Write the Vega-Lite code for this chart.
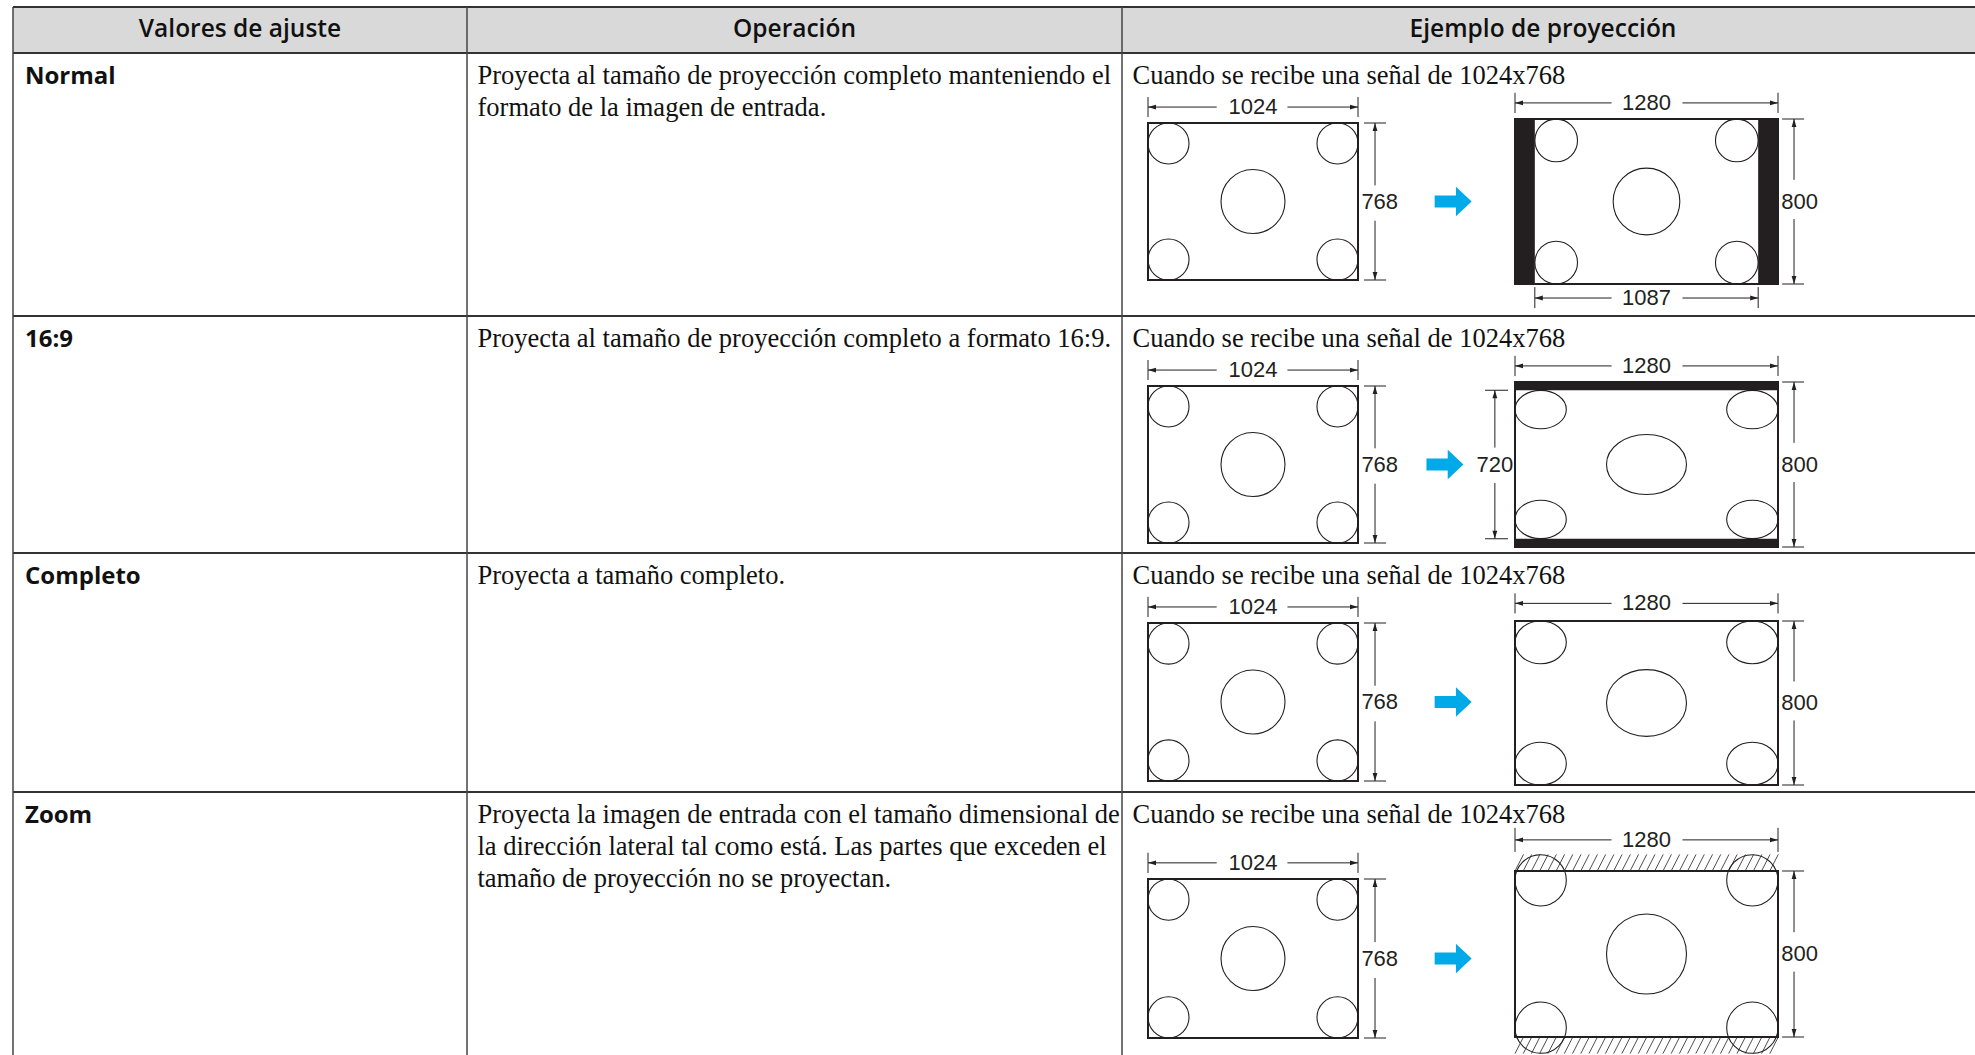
{
  "$schema": "https://vega.github.io/schema/vega-lite/v6.json",
  "width": 1975,
  "height": 1055,
  "padding": 0,
  "autosize": {"type": "none"},
  "background": "white",
  "config": {"view": {"stroke": null}},
  "datasets": {
    "celdas": [
      {"fila": 1, "columna": 0, "texto": "Normal"},
      {"fila": 1, "columna": 1, "texto": "Proyecta al tamaño de proyección completo manteniendo el\nformato de la imagen de entrada."},
      {"fila": 1, "columna": 2, "texto": "Cuando se recibe una señal de 1024x768"},
      {"fila": 2, "columna": 0, "texto": "16:9"},
      {"fila": 2, "columna": 1, "texto": "Proyecta al tamaño de proyección completo a formato 16:9."},
      {"fila": 2, "columna": 2, "texto": "Cuando se recibe una señal de 1024x768"},
      {"fila": 3, "columna": 0, "texto": "Completo"},
      {"fila": 3, "columna": 1, "texto": "Proyecta a tamaño completo."},
      {"fila": 3, "columna": 2, "texto": "Cuando se recibe una señal de 1024x768"},
      {"fila": 4, "columna": 0, "texto": "Zoom"},
      {"fila": 4, "columna": 1, "texto": "Proyecta la imagen de entrada con el tamaño dimensional de\nla dirección lateral tal como está. Las partes que exceden el\ntamaño de proyección no se proyectan."},
      {"fila": 4, "columna": 2, "texto": "Cuando se recibe una señal de 1024x768"}
    ],
    "encabezado": [
      {"columna": 0.5, "fila": 0.5, "titulo": "Valores de ajuste"},
      {"columna": 1.5, "fila": 0.5, "titulo": "Operación"},
      {"columna": 2.5, "fila": 0.5, "titulo": "Ejemplo de proyección"}
    ],
    "fondo_encabezado": [{"c_ini": 0, "c_fin": 3.2, "f_ini": 0, "f_fin": 1}],
    "bordes_h": [
      {"limite": 0, "c_ini": 0, "c_fin": 3.2}, {"limite": 1, "c_ini": 0, "c_fin": 3.2}, {"limite": 2, "c_ini": 0, "c_fin": 3.2},
      {"limite": 3, "c_ini": 0, "c_fin": 3.2}, {"limite": 4, "c_ini": 0, "c_fin": 3.2}
    ],
    "bordes_v": [
      {"limite": 0, "f_ini": 0, "f_fin": 5}, {"limite": 1, "f_ini": 0, "f_fin": 5}, {"limite": 2, "f_ini": 0, "f_fin": 5}
    ],
    "marcos": [
      {"panel": "entrada", "x_ini": 0, "x_fin": 1024, "y_ini": 0, "y_fin": 768},
      {"panel": "salida", "x_ini": 0, "x_fin": 1280, "y_ini": 0, "y_fin": 800}
    ],
    "flechas": [
      {"ajuste": "Normal", "fx": 1488, "fy": 384},
      {"ajuste": "16:9", "fx": 1448, "fy": 384},
      {"ajuste": "Completo", "fx": 1488, "fy": 384},
      {"ajuste": "Zoom", "fx": 1488, "fy": 384}
    ],
    "entrada_circulos": [
      {"cx": 100, "cy": 100, "d": 200, "forma": "circulo"},
      {"cx": 924, "cy": 100, "d": 200, "forma": "circulo"},
      {"cx": 100, "cy": 668, "d": 200, "forma": "circulo"},
      {"cx": 924, "cy": 668, "d": 200, "forma": "circulo"},
      {"cx": 512, "cy": 384, "d": 312, "forma": "circulo"}
    ],
    "entrada_cotas": [
      {"x_ini": 0, "y_ini": -78, "x_fin": 335, "y_fin": -78},
      {"x_ini": 680, "y_ini": -78, "x_fin": 1024, "y_fin": -78},
      {"x_ini": 0, "y_ini": -127, "x_fin": 0, "y_fin": -29},
      {"x_ini": 1024, "y_ini": -127, "x_fin": 1024, "y_fin": -29},
      {"x_ini": 1107, "y_ini": 0, "x_fin": 1107, "y_fin": 305},
      {"x_ini": 1107, "y_ini": 478, "x_fin": 1107, "y_fin": 768},
      {"x_ini": 1053, "y_ini": 0, "x_fin": 1161, "y_fin": 0},
      {"x_ini": 1053, "y_ini": 768, "x_fin": 1161, "y_fin": 768}
    ],
    "entrada_puntas": [
      {"px": 0, "py": -78, "punta": "izq"},
      {"px": 1024, "py": -78, "punta": "der"},
      {"px": 1107, "py": 0, "punta": "arr"},
      {"px": 1107, "py": 768, "punta": "aba"}
    ],
    "entrada_textos": [
      {"tx": 512, "ty": -78, "t": "1024"},
      {"tx": 1130, "ty": 384, "t": "768"}
    ],
    "salida_barras": [
      {"ajuste": "Normal", "x_ini": 0, "x_fin": 96.5, "y_ini": 0, "y_fin": 800},
      {"ajuste": "Normal", "x_ini": 1183.5, "x_fin": 1280, "y_ini": 0, "y_fin": 800},
      {"ajuste": "16:9", "x_ini": 0, "x_fin": 1280, "y_ini": 0, "y_fin": 40},
      {"ajuste": "16:9", "x_ini": 0, "x_fin": 1280, "y_ini": 760, "y_fin": 800}
    ],
    "salida_circulos": [
      {"ajuste": "Normal", "cx": 200.5, "cy": 104, "d": 208, "forma": "circulo"},
      {"ajuste": "Normal", "cx": 1079.5, "cy": 104, "d": 208, "forma": "circulo"},
      {"ajuste": "Normal", "cx": 200.5, "cy": 696, "d": 208, "forma": "circulo"},
      {"ajuste": "Normal", "cx": 1079.5, "cy": 696, "d": 208, "forma": "circulo"},
      {"ajuste": "Normal", "cx": 640, "cy": 400, "d": 325, "forma": "circulo"},
      {"ajuste": "16:9", "cx": 125, "cy": 133.75, "d": 250, "forma": "elipse_169"},
      {"ajuste": "16:9", "cx": 1155, "cy": 133.75, "d": 250, "forma": "elipse_169"},
      {"ajuste": "16:9", "cx": 125, "cy": 666.25, "d": 250, "forma": "elipse_169"},
      {"ajuste": "16:9", "cx": 1155, "cy": 666.25, "d": 250, "forma": "elipse_169"},
      {"ajuste": "16:9", "cx": 640, "cy": 400, "d": 390, "forma": "elipse_169"},
      {"ajuste": "Completo", "cx": 125, "cy": 104.2, "d": 250, "forma": "elipse_completo"},
      {"ajuste": "Completo", "cx": 1155, "cy": 104.2, "d": 250, "forma": "elipse_completo"},
      {"ajuste": "Completo", "cx": 125, "cy": 695.8, "d": 250, "forma": "elipse_completo"},
      {"ajuste": "Completo", "cx": 1155, "cy": 695.8, "d": 250, "forma": "elipse_completo"},
      {"ajuste": "Completo", "cx": 640, "cy": 400, "d": 390, "forma": "elipse_completo"},
      {"ajuste": "Zoom", "cx": 125, "cy": 45, "d": 250, "forma": "circulo"},
      {"ajuste": "Zoom", "cx": 1155, "cy": 45, "d": 250, "forma": "circulo"},
      {"ajuste": "Zoom", "cx": 125, "cy": 755, "d": 250, "forma": "circulo"},
      {"ajuste": "Zoom", "cx": 1155, "cy": 755, "d": 250, "forma": "circulo"},
      {"ajuste": "Zoom", "cx": 640, "cy": 400, "d": 390, "forma": "circulo"}
    ],
    "salida_cotas": [
      {"ajuste": "Normal", "x_ini": 0, "y_ini": -78, "x_fin": 470, "y_fin": -78},
      {"ajuste": "Normal", "x_ini": 815, "y_ini": -78, "x_fin": 1280, "y_fin": -78},
      {"ajuste": "Normal", "x_ini": 0, "y_ini": -127, "x_fin": 0, "y_fin": -29},
      {"ajuste": "Normal", "x_ini": 1280, "y_ini": -127, "x_fin": 1280, "y_fin": -29},
      {"ajuste": "Normal", "x_ini": 1358, "y_ini": 0, "x_fin": 1358, "y_fin": 295},
      {"ajuste": "Normal", "x_ini": 1358, "y_ini": 485, "x_fin": 1358, "y_fin": 800},
      {"ajuste": "Normal", "x_ini": 1300, "y_ini": 0, "x_fin": 1407, "y_fin": 0},
      {"ajuste": "Normal", "x_ini": 1300, "y_ini": 800, "x_fin": 1407, "y_fin": 800},
      {"ajuste": "Normal", "x_ini": 96.5, "y_ini": 868, "x_fin": 470, "y_fin": 868},
      {"ajuste": "Normal", "x_ini": 815, "y_ini": 868, "x_fin": 1183.5, "y_fin": 868},
      {"ajuste": "Normal", "x_ini": 96.5, "y_ini": 815, "x_fin": 96.5, "y_fin": 917},
      {"ajuste": "Normal", "x_ini": 1183.5, "y_ini": 815, "x_fin": 1183.5, "y_fin": 917},
      {"ajuste": "16:9", "x_ini": 0, "y_ini": -78, "x_fin": 470, "y_fin": -78},
      {"ajuste": "16:9", "x_ini": 815, "y_ini": -78, "x_fin": 1280, "y_fin": -78},
      {"ajuste": "16:9", "x_ini": 0, "y_ini": -127, "x_fin": 0, "y_fin": -29},
      {"ajuste": "16:9", "x_ini": 1280, "y_ini": -127, "x_fin": 1280, "y_fin": -29},
      {"ajuste": "16:9", "x_ini": 1358, "y_ini": 0, "x_fin": 1358, "y_fin": 295},
      {"ajuste": "16:9", "x_ini": 1358, "y_ini": 485, "x_fin": 1358, "y_fin": 800},
      {"ajuste": "16:9", "x_ini": 1300, "y_ini": 0, "x_fin": 1407, "y_fin": 0},
      {"ajuste": "16:9", "x_ini": 1300, "y_ini": 800, "x_fin": 1407, "y_fin": 800},
      {"ajuste": "16:9", "x_ini": -98, "y_ini": 40, "x_fin": -98, "y_fin": 318},
      {"ajuste": "16:9", "x_ini": -98, "y_ini": 490, "x_fin": -98, "y_fin": 760},
      {"ajuste": "16:9", "x_ini": -146, "y_ini": 40, "x_fin": -34, "y_fin": 40},
      {"ajuste": "16:9", "x_ini": -146, "y_ini": 760, "x_fin": -34, "y_fin": 760},
      {"ajuste": "Completo", "x_ini": 0, "y_ini": -86, "x_fin": 470, "y_fin": -86},
      {"ajuste": "Completo", "x_ini": 815, "y_ini": -86, "x_fin": 1280, "y_fin": -86},
      {"ajuste": "Completo", "x_ini": 0, "y_ini": -135, "x_fin": 0, "y_fin": -37},
      {"ajuste": "Completo", "x_ini": 1280, "y_ini": -135, "x_fin": 1280, "y_fin": -37},
      {"ajuste": "Completo", "x_ini": 1358, "y_ini": 0, "x_fin": 1358, "y_fin": 295},
      {"ajuste": "Completo", "x_ini": 1358, "y_ini": 485, "x_fin": 1358, "y_fin": 800},
      {"ajuste": "Completo", "x_ini": 1300, "y_ini": 0, "x_fin": 1407, "y_fin": 0},
      {"ajuste": "Completo", "x_ini": 1300, "y_ini": 800, "x_fin": 1407, "y_fin": 800},
      {"ajuste": "Zoom", "x_ini": 0, "y_ini": -150, "x_fin": 470, "y_fin": -150},
      {"ajuste": "Zoom", "x_ini": 815, "y_ini": -150, "x_fin": 1280, "y_fin": -150},
      {"ajuste": "Zoom", "x_ini": 0, "y_ini": -208, "x_fin": 0, "y_fin": -92},
      {"ajuste": "Zoom", "x_ini": 1280, "y_ini": -208, "x_fin": 1280, "y_fin": -92},
      {"ajuste": "Zoom", "x_ini": 1358, "y_ini": 0, "x_fin": 1358, "y_fin": 295},
      {"ajuste": "Zoom", "x_ini": 1358, "y_ini": 485, "x_fin": 1358, "y_fin": 800},
      {"ajuste": "Zoom", "x_ini": 1300, "y_ini": 0, "x_fin": 1407, "y_fin": 0},
      {"ajuste": "Zoom", "x_ini": 1300, "y_ini": 800, "x_fin": 1407, "y_fin": 800}
    ],
    "salida_puntas": [
      {"ajuste": "Normal", "px": 0, "py": -78, "punta": "izq"},
      {"ajuste": "Normal", "px": 1280, "py": -78, "punta": "der"},
      {"ajuste": "Normal", "px": 1358, "py": 0, "punta": "arr"},
      {"ajuste": "Normal", "px": 1358, "py": 800, "punta": "aba"},
      {"ajuste": "Normal", "px": 96.5, "py": 868, "punta": "izq"},
      {"ajuste": "Normal", "px": 1183.5, "py": 868, "punta": "der"},
      {"ajuste": "16:9", "px": 0, "py": -78, "punta": "izq"},
      {"ajuste": "16:9", "px": 1280, "py": -78, "punta": "der"},
      {"ajuste": "16:9", "px": 1358, "py": 0, "punta": "arr"},
      {"ajuste": "16:9", "px": 1358, "py": 800, "punta": "aba"},
      {"ajuste": "16:9", "px": -98, "py": 40, "punta": "arr"},
      {"ajuste": "16:9", "px": -98, "py": 760, "punta": "aba"},
      {"ajuste": "Completo", "px": 0, "py": -86, "punta": "izq"},
      {"ajuste": "Completo", "px": 1280, "py": -86, "punta": "der"},
      {"ajuste": "Completo", "px": 1358, "py": 0, "punta": "arr"},
      {"ajuste": "Completo", "px": 1358, "py": 800, "punta": "aba"},
      {"ajuste": "Zoom", "px": 0, "py": -150, "punta": "izq"},
      {"ajuste": "Zoom", "px": 1280, "py": -150, "punta": "der"},
      {"ajuste": "Zoom", "px": 1358, "py": 0, "punta": "arr"},
      {"ajuste": "Zoom", "px": 1358, "py": 800, "punta": "aba"}
    ],
    "salida_textos": [
      {"ajuste": "Normal", "tx": 640, "ty": -78, "t": "1280"},
      {"ajuste": "Normal", "tx": 1385, "ty": 400, "t": "800"},
      {"ajuste": "Normal", "tx": 640, "ty": 868, "t": "1087"},
      {"ajuste": "16:9", "tx": 640, "ty": -78, "t": "1280"},
      {"ajuste": "16:9", "tx": 1385, "ty": 400, "t": "800"},
      {"ajuste": "16:9", "tx": -98, "ty": 400, "t": "720"},
      {"ajuste": "Completo", "tx": 640, "ty": -86, "t": "1280"},
      {"ajuste": "Completo", "tx": 1385, "ty": 400, "t": "800"},
      {"ajuste": "Zoom", "tx": 640, "ty": -150, "t": "1280"},
      {"ajuste": "Zoom", "tx": 1385, "ty": 400, "t": "800"}
    ],
    "rayado": [
      {"u": 0, "y_ini": 0, "y_fin": -80}, {"u": 40, "y_ini": 0, "y_fin": -80}, {"u": 80, "y_ini": 0, "y_fin": -80}, {"u": 120, "y_ini": 0, "y_fin": -80},
      {"u": 160, "y_ini": 0, "y_fin": -80}, {"u": 200, "y_ini": 0, "y_fin": -80}, {"u": 240, "y_ini": 0, "y_fin": -80}, {"u": 280, "y_ini": 0, "y_fin": -80},
      {"u": 320, "y_ini": 0, "y_fin": -80}, {"u": 360, "y_ini": 0, "y_fin": -80}, {"u": 400, "y_ini": 0, "y_fin": -80}, {"u": 440, "y_ini": 0, "y_fin": -80},
      {"u": 480, "y_ini": 0, "y_fin": -80}, {"u": 520, "y_ini": 0, "y_fin": -80}, {"u": 560, "y_ini": 0, "y_fin": -80}, {"u": 600, "y_ini": 0, "y_fin": -80},
      {"u": 640, "y_ini": 0, "y_fin": -80}, {"u": 680, "y_ini": 0, "y_fin": -80}, {"u": 720, "y_ini": 0, "y_fin": -80}, {"u": 760, "y_ini": 0, "y_fin": -80},
      {"u": 800, "y_ini": 0, "y_fin": -80}, {"u": 840, "y_ini": 0, "y_fin": -80}, {"u": 880, "y_ini": 0, "y_fin": -80}, {"u": 920, "y_ini": 0, "y_fin": -80},
      {"u": 960, "y_ini": 0, "y_fin": -80}, {"u": 1000, "y_ini": 0, "y_fin": -80}, {"u": 1040, "y_ini": 0, "y_fin": -80}, {"u": 1080, "y_ini": 0, "y_fin": -80},
      {"u": 1120, "y_ini": 0, "y_fin": -80}, {"u": 1160, "y_ini": 0, "y_fin": -80}, {"u": 1200, "y_ini": 0, "y_fin": -80}, {"u": 1240, "y_ini": 0, "y_fin": -80},
      {"u": 0, "y_ini": 880, "y_fin": 800}, {"u": 40, "y_ini": 880, "y_fin": 800}, {"u": 80, "y_ini": 880, "y_fin": 800}, {"u": 120, "y_ini": 880, "y_fin": 800},
      {"u": 160, "y_ini": 880, "y_fin": 800}, {"u": 200, "y_ini": 880, "y_fin": 800}, {"u": 240, "y_ini": 880, "y_fin": 800}, {"u": 280, "y_ini": 880, "y_fin": 800},
      {"u": 320, "y_ini": 880, "y_fin": 800}, {"u": 360, "y_ini": 880, "y_fin": 800}, {"u": 400, "y_ini": 880, "y_fin": 800}, {"u": 440, "y_ini": 880, "y_fin": 800},
      {"u": 480, "y_ini": 880, "y_fin": 800}, {"u": 520, "y_ini": 880, "y_fin": 800}, {"u": 560, "y_ini": 880, "y_fin": 800}, {"u": 600, "y_ini": 880, "y_fin": 800},
      {"u": 640, "y_ini": 880, "y_fin": 800}, {"u": 680, "y_ini": 880, "y_fin": 800}, {"u": 720, "y_ini": 880, "y_fin": 800}, {"u": 760, "y_ini": 880, "y_fin": 800},
      {"u": 800, "y_ini": 880, "y_fin": 800}, {"u": 840, "y_ini": 880, "y_fin": 800}, {"u": 880, "y_ini": 880, "y_fin": 800}, {"u": 920, "y_ini": 880, "y_fin": 800},
      {"u": 960, "y_ini": 880, "y_fin": 800}, {"u": 1000, "y_ini": 880, "y_fin": 800}, {"u": 1040, "y_ini": 880, "y_fin": 800}, {"u": 1080, "y_ini": 880, "y_fin": 800},
      {"u": 1120, "y_ini": 880, "y_fin": 800}, {"u": 1160, "y_ini": 880, "y_fin": 800}, {"u": 1200, "y_ini": 880, "y_fin": 800}, {"u": 1240, "y_ini": 880, "y_fin": 800}
    ]
  },
  "resolve": {"scale": {"x": "independent", "y": "independent"}},
  "layer": [
    {
      "layer": [
        {"data": {"name": "fondo_encabezado"}, "mark": {"type": "rect", "color": "#d9d9d9"},
         "encoding": {
           "x": {"field": "c_ini", "type": "quantitative", "axis": null, "scale": {"domain": [0, 1, 2, 3], "range": [13, 467, 1122, 1964], "nice": false, "zero": false}},
           "x2": {"field": "c_fin"},
           "y": {"field": "f_ini", "type": "quantitative", "axis": null, "scale": {"domain": [0, 1, 2, 3, 4, 5], "range": [7, 53, 316, 553, 792, 1055], "nice": false, "zero": false}},
           "y2": {"field": "f_fin"}}},
        {"data": {"name": "bordes_h"}, "mark": {"type": "rule", "color": "#333333", "strokeWidth": 1.8},
         "encoding": {"x": {"field": "c_ini", "type": "quantitative", "axis": null}, "x2": {"field": "c_fin"}, "y": {"field": "limite", "type": "quantitative", "axis": null}}},
        {"data": {"name": "bordes_v"}, "mark": {"type": "rule", "color": "#444444", "strokeWidth": 1.5},
         "encoding": {"x": {"field": "limite", "type": "quantitative", "axis": null}, "y": {"field": "f_ini", "type": "quantitative", "axis": null}, "y2": {"field": "f_fin"}}},
        {"data": {"name": "encabezado"}, "mark": {"type": "text", "font": "Open Sans", "fontWeight": 600, "fontSize": 24.5, "align": "center", "baseline": "middle", "color": "#111111"},
         "encoding": {"x": {"field": "columna", "type": "quantitative", "axis": null}, "y": {"field": "fila", "type": "quantitative", "axis": null}, "text": {"field": "titulo", "type": "nominal"}}},
        {"data": {"name": "celdas"}, "transform": [{"filter": "datum.columna === 0"}],
         "mark": {"type": "text", "font": "Open Sans", "fontWeight": "bold", "fontSize": 24, "align": "left", "baseline": "alphabetic", "dx": 12, "dy": 31, "color": "#111111"},
         "encoding": {"x": {"field": "columna", "type": "quantitative", "axis": null}, "y": {"field": "fila", "type": "quantitative", "axis": null}, "text": {"field": "texto", "type": "nominal"}}},
        {"data": {"name": "celdas"}, "transform": [{"filter": "datum.columna > 0"}],
         "mark": {"type": "text", "font": "Liberation Serif", "fontSize": 26.5, "align": "left", "baseline": "alphabetic", "dx": 10.5, "dy": 31, "lineBreak": "\n", "lineHeight": 32, "color": "#111111"},
         "encoding": {"x": {"field": "columna", "type": "quantitative", "axis": null}, "y": {"field": "fila", "type": "quantitative", "axis": null}, "text": {"field": "texto", "type": "nominal"}}}
      ]
    },
    {
      "layer": [
        {"data": {"name": "marcos"}, "transform": [{"filter": "datum.panel === 'entrada'"}], "mark": {"type": "rect", "fill": "white", "stroke": "#231f20", "strokeWidth": 2},
         "encoding": {"x": {"field": "x_ini", "type": "quantitative", "axis": null, "scale": {"domain": [0, 1024], "range": [1148, 1358], "nice": false, "zero": false}}, "x2": {"field": "x_fin"},
                      "y": {"field": "y_ini", "type": "quantitative", "axis": null, "scale": {"domain": [0, 768], "range": [123, 280], "nice": false, "zero": false}}, "y2": {"field": "y_fin"}}},
        {"data": {"name": "entrada_circulos"}, "mark": {"type": "point", "filled": false, "color": "#231f20", "strokeWidth": 1.1, "opacity": 1},
         "encoding": {"x": {"field": "cx", "type": "quantitative", "axis": null}, "y": {"field": "cy", "type": "quantitative", "axis": null},
                      "size": {"field": "d", "type": "quantitative", "legend": null, "scale": {"type": "pow", "exponent": 2, "domain": [0, 1000], "range": [0, 42066]}},
                      "shape": {"field": "forma", "type": "nominal", "legend": null, "scale": {"domain": ["circulo", "elipse_169", "elipse_completo", "izq", "der", "arr", "aba"], "range": ["M-1,0A1,1 0 1,0 1,0A1,1 0 1,0 -1,0Z", "M-1,0A1,0.75 0 1,0 1,0A1,0.75 0 1,0 -1,0Z", "M-1,0A1,0.8333 0 1,0 1,0A1,0.8333 0 1,0 -1,0Z", "M0,0L2,-0.6L2,0.6Z", "M0,0L-2,-0.6L-2,0.6Z", "M0,0L-0.6,2L0.6,2Z", "M0,0L-0.6,-2L0.6,-2Z"]}}}},
        {"data": {"name": "entrada_cotas"}, "mark": {"type": "rule", "color": "#231f20", "strokeWidth": 1},
         "encoding": {"x": {"field": "x_ini", "type": "quantitative", "axis": null}, "x2": {"field": "x_fin"}, "y": {"field": "y_ini", "type": "quantitative", "axis": null}, "y2": {"field": "y_fin"}}},
        {"data": {"name": "entrada_puntas"}, "mark": {"type": "point", "filled": true, "color": "#231f20", "size": 64, "opacity": 1},
         "encoding": {"x": {"field": "px", "type": "quantitative", "axis": null}, "y": {"field": "py", "type": "quantitative", "axis": null},
                      "shape": {"field": "punta", "type": "nominal", "legend": null, "scale": {"domain": ["circulo", "elipse_169", "elipse_completo", "izq", "der", "arr", "aba"], "range": ["M-1,0A1,1 0 1,0 1,0A1,1 0 1,0 -1,0Z", "M-1,0A1,0.75 0 1,0 1,0A1,0.75 0 1,0 -1,0Z", "M-1,0A1,0.8333 0 1,0 1,0A1,0.8333 0 1,0 -1,0Z", "M0,0L2,-0.6L2,0.6Z", "M0,0L-2,-0.6L-2,0.6Z", "M0,0L-0.6,2L0.6,2Z", "M0,0L-0.6,-2L0.6,-2Z"]}}}},
        {"data": {"name": "entrada_textos"}, "mark": {"type": "text", "font": "Liberation Sans", "fontSize": 22, "align": "center", "baseline": "middle", "color": "#231f20"},
         "encoding": {"x": {"field": "tx", "type": "quantitative", "axis": null}, "y": {"field": "ty", "type": "quantitative", "axis": null}, "text": {"field": "t", "type": "nominal"}}},
        {"data": {"name": "flechas"}, "transform": [{"filter": "datum.ajuste === 'Normal'"}], "mark": {"type": "point", "shape": "M-1,-0.33L0.15,-0.33L0.15,-0.8L1,0L0.15,0.8L0.15,0.33L-1,0.33Z", "size": 1369, "filled": true, "color": "#00a9e8", "opacity": 1},
         "encoding": {"x": {"field": "fx", "type": "quantitative", "axis": null}, "y": {"field": "fy", "type": "quantitative", "axis": null}}}
      ]
    },
    {
      "layer": [
        {"data": {"name": "marcos"}, "transform": [{"filter": "datum.panel === 'salida'"}], "mark": {"type": "rect", "fill": "white", "stroke": "#231f20", "strokeWidth": 2},
         "encoding": {"x": {"field": "x_ini", "type": "quantitative", "axis": null, "scale": {"domain": [0, 1280], "range": [1515, 1778], "nice": false, "zero": false}}, "x2": {"field": "x_fin"},
                      "y": {"field": "y_ini", "type": "quantitative", "axis": null, "scale": {"domain": [0, 800], "range": [119, 284], "nice": false, "zero": false}}, "y2": {"field": "y_fin"}}},
        {"data": {"name": "salida_barras"}, "transform": [{"filter": "datum.ajuste === 'Normal'"}], "mark": {"type": "rect", "color": "#231f20"},
         "encoding": {"x": {"field": "x_ini", "type": "quantitative", "axis": null}, "x2": {"field": "x_fin"}, "y": {"field": "y_ini", "type": "quantitative", "axis": null}, "y2": {"field": "y_fin"}}},
        {"data": {"name": "salida_circulos"}, "transform": [{"filter": "datum.ajuste === 'Normal'"}], "mark": {"type": "point", "filled": false, "color": "#231f20", "strokeWidth": 1.1, "opacity": 1},
         "encoding": {"x": {"field": "cx", "type": "quantitative", "axis": null}, "y": {"field": "cy", "type": "quantitative", "axis": null},
                      "size": {"field": "d", "type": "quantitative", "legend": null, "scale": {"type": "pow", "exponent": 2, "domain": [0, 1000], "range": [0, 42066]}},
                      "shape": {"field": "forma", "type": "nominal", "legend": null, "scale": {"domain": ["circulo", "elipse_169", "elipse_completo", "izq", "der", "arr", "aba"], "range": ["M-1,0A1,1 0 1,0 1,0A1,1 0 1,0 -1,0Z", "M-1,0A1,0.75 0 1,0 1,0A1,0.75 0 1,0 -1,0Z", "M-1,0A1,0.8333 0 1,0 1,0A1,0.8333 0 1,0 -1,0Z", "M0,0L2,-0.6L2,0.6Z", "M0,0L-2,-0.6L-2,0.6Z", "M0,0L-0.6,2L0.6,2Z", "M0,0L-0.6,-2L0.6,-2Z"]}}}},
        {"data": {"name": "salida_cotas"}, "transform": [{"filter": "datum.ajuste === 'Normal'"}], "mark": {"type": "rule", "color": "#231f20", "strokeWidth": 1},
         "encoding": {"x": {"field": "x_ini", "type": "quantitative", "axis": null}, "x2": {"field": "x_fin"}, "y": {"field": "y_ini", "type": "quantitative", "axis": null}, "y2": {"field": "y_fin"}}},
        {"data": {"name": "salida_puntas"}, "transform": [{"filter": "datum.ajuste === 'Normal'"}], "mark": {"type": "point", "filled": true, "color": "#231f20", "size": 64, "opacity": 1},
         "encoding": {"x": {"field": "px", "type": "quantitative", "axis": null}, "y": {"field": "py", "type": "quantitative", "axis": null},
                      "shape": {"field": "punta", "type": "nominal", "legend": null, "scale": {"domain": ["circulo", "elipse_169", "elipse_completo", "izq", "der", "arr", "aba"], "range": ["M-1,0A1,1 0 1,0 1,0A1,1 0 1,0 -1,0Z", "M-1,0A1,0.75 0 1,0 1,0A1,0.75 0 1,0 -1,0Z", "M-1,0A1,0.8333 0 1,0 1,0A1,0.8333 0 1,0 -1,0Z", "M0,0L2,-0.6L2,0.6Z", "M0,0L-2,-0.6L-2,0.6Z", "M0,0L-0.6,2L0.6,2Z", "M0,0L-0.6,-2L0.6,-2Z"]}}}},
        {"data": {"name": "salida_textos"}, "transform": [{"filter": "datum.ajuste === 'Normal'"}], "mark": {"type": "text", "font": "Liberation Sans", "fontSize": 22, "align": "center", "baseline": "middle", "color": "#231f20"},
         "encoding": {"x": {"field": "tx", "type": "quantitative", "axis": null}, "y": {"field": "ty", "type": "quantitative", "axis": null}, "text": {"field": "t", "type": "nominal"}}}
      ]
    },
    {
      "layer": [
        {"data": {"name": "marcos"}, "transform": [{"filter": "datum.panel === 'entrada'"}], "mark": {"type": "rect", "fill": "white", "stroke": "#231f20", "strokeWidth": 2},
         "encoding": {"x": {"field": "x_ini", "type": "quantitative", "axis": null, "scale": {"domain": [0, 1024], "range": [1148, 1358], "nice": false, "zero": false}}, "x2": {"field": "x_fin"},
                      "y": {"field": "y_ini", "type": "quantitative", "axis": null, "scale": {"domain": [0, 768], "range": [386, 543], "nice": false, "zero": false}}, "y2": {"field": "y_fin"}}},
        {"data": {"name": "entrada_circulos"}, "mark": {"type": "point", "filled": false, "color": "#231f20", "strokeWidth": 1.1, "opacity": 1},
         "encoding": {"x": {"field": "cx", "type": "quantitative", "axis": null}, "y": {"field": "cy", "type": "quantitative", "axis": null},
                      "size": {"field": "d", "type": "quantitative", "legend": null, "scale": {"type": "pow", "exponent": 2, "domain": [0, 1000], "range": [0, 42066]}},
                      "shape": {"field": "forma", "type": "nominal", "legend": null, "scale": {"domain": ["circulo", "elipse_169", "elipse_completo", "izq", "der", "arr", "aba"], "range": ["M-1,0A1,1 0 1,0 1,0A1,1 0 1,0 -1,0Z", "M-1,0A1,0.75 0 1,0 1,0A1,0.75 0 1,0 -1,0Z", "M-1,0A1,0.8333 0 1,0 1,0A1,0.8333 0 1,0 -1,0Z", "M0,0L2,-0.6L2,0.6Z", "M0,0L-2,-0.6L-2,0.6Z", "M0,0L-0.6,2L0.6,2Z", "M0,0L-0.6,-2L0.6,-2Z"]}}}},
        {"data": {"name": "entrada_cotas"}, "mark": {"type": "rule", "color": "#231f20", "strokeWidth": 1},
         "encoding": {"x": {"field": "x_ini", "type": "quantitative", "axis": null}, "x2": {"field": "x_fin"}, "y": {"field": "y_ini", "type": "quantitative", "axis": null}, "y2": {"field": "y_fin"}}},
        {"data": {"name": "entrada_puntas"}, "mark": {"type": "point", "filled": true, "color": "#231f20", "size": 64, "opacity": 1},
         "encoding": {"x": {"field": "px", "type": "quantitative", "axis": null}, "y": {"field": "py", "type": "quantitative", "axis": null},
                      "shape": {"field": "punta", "type": "nominal", "legend": null, "scale": {"domain": ["circulo", "elipse_169", "elipse_completo", "izq", "der", "arr", "aba"], "range": ["M-1,0A1,1 0 1,0 1,0A1,1 0 1,0 -1,0Z", "M-1,0A1,0.75 0 1,0 1,0A1,0.75 0 1,0 -1,0Z", "M-1,0A1,0.8333 0 1,0 1,0A1,0.8333 0 1,0 -1,0Z", "M0,0L2,-0.6L2,0.6Z", "M0,0L-2,-0.6L-2,0.6Z", "M0,0L-0.6,2L0.6,2Z", "M0,0L-0.6,-2L0.6,-2Z"]}}}},
        {"data": {"name": "entrada_textos"}, "mark": {"type": "text", "font": "Liberation Sans", "fontSize": 22, "align": "center", "baseline": "middle", "color": "#231f20"},
         "encoding": {"x": {"field": "tx", "type": "quantitative", "axis": null}, "y": {"field": "ty", "type": "quantitative", "axis": null}, "text": {"field": "t", "type": "nominal"}}},
        {"data": {"name": "flechas"}, "transform": [{"filter": "datum.ajuste === '16:9'"}], "mark": {"type": "point", "shape": "M-1,-0.33L0.15,-0.33L0.15,-0.8L1,0L0.15,0.8L0.15,0.33L-1,0.33Z", "size": 1369, "filled": true, "color": "#00a9e8", "opacity": 1},
         "encoding": {"x": {"field": "fx", "type": "quantitative", "axis": null}, "y": {"field": "fy", "type": "quantitative", "axis": null}}}
      ]
    },
    {
      "layer": [
        {"data": {"name": "marcos"}, "transform": [{"filter": "datum.panel === 'salida'"}], "mark": {"type": "rect", "fill": "white", "stroke": "#231f20", "strokeWidth": 2},
         "encoding": {"x": {"field": "x_ini", "type": "quantitative", "axis": null, "scale": {"domain": [0, 1280], "range": [1515, 1778], "nice": false, "zero": false}}, "x2": {"field": "x_fin"},
                      "y": {"field": "y_ini", "type": "quantitative", "axis": null, "scale": {"domain": [0, 800], "range": [382, 547], "nice": false, "zero": false}}, "y2": {"field": "y_fin"}}},
        {"data": {"name": "salida_barras"}, "transform": [{"filter": "datum.ajuste === '16:9'"}], "mark": {"type": "rect", "color": "#231f20"},
         "encoding": {"x": {"field": "x_ini", "type": "quantitative", "axis": null}, "x2": {"field": "x_fin"}, "y": {"field": "y_ini", "type": "quantitative", "axis": null}, "y2": {"field": "y_fin"}}},
        {"data": {"name": "salida_circulos"}, "transform": [{"filter": "datum.ajuste === '16:9'"}], "mark": {"type": "point", "filled": false, "color": "#231f20", "strokeWidth": 1.1, "opacity": 1},
         "encoding": {"x": {"field": "cx", "type": "quantitative", "axis": null}, "y": {"field": "cy", "type": "quantitative", "axis": null},
                      "size": {"field": "d", "type": "quantitative", "legend": null, "scale": {"type": "pow", "exponent": 2, "domain": [0, 1000], "range": [0, 42066]}},
                      "shape": {"field": "forma", "type": "nominal", "legend": null, "scale": {"domain": ["circulo", "elipse_169", "elipse_completo", "izq", "der", "arr", "aba"], "range": ["M-1,0A1,1 0 1,0 1,0A1,1 0 1,0 -1,0Z", "M-1,0A1,0.75 0 1,0 1,0A1,0.75 0 1,0 -1,0Z", "M-1,0A1,0.8333 0 1,0 1,0A1,0.8333 0 1,0 -1,0Z", "M0,0L2,-0.6L2,0.6Z", "M0,0L-2,-0.6L-2,0.6Z", "M0,0L-0.6,2L0.6,2Z", "M0,0L-0.6,-2L0.6,-2Z"]}}}},
        {"data": {"name": "salida_cotas"}, "transform": [{"filter": "datum.ajuste === '16:9'"}], "mark": {"type": "rule", "color": "#231f20", "strokeWidth": 1},
         "encoding": {"x": {"field": "x_ini", "type": "quantitative", "axis": null}, "x2": {"field": "x_fin"}, "y": {"field": "y_ini", "type": "quantitative", "axis": null}, "y2": {"field": "y_fin"}}},
        {"data": {"name": "salida_puntas"}, "transform": [{"filter": "datum.ajuste === '16:9'"}], "mark": {"type": "point", "filled": true, "color": "#231f20", "size": 64, "opacity": 1},
         "encoding": {"x": {"field": "px", "type": "quantitative", "axis": null}, "y": {"field": "py", "type": "quantitative", "axis": null},
                      "shape": {"field": "punta", "type": "nominal", "legend": null, "scale": {"domain": ["circulo", "elipse_169", "elipse_completo", "izq", "der", "arr", "aba"], "range": ["M-1,0A1,1 0 1,0 1,0A1,1 0 1,0 -1,0Z", "M-1,0A1,0.75 0 1,0 1,0A1,0.75 0 1,0 -1,0Z", "M-1,0A1,0.8333 0 1,0 1,0A1,0.8333 0 1,0 -1,0Z", "M0,0L2,-0.6L2,0.6Z", "M0,0L-2,-0.6L-2,0.6Z", "M0,0L-0.6,2L0.6,2Z", "M0,0L-0.6,-2L0.6,-2Z"]}}}},
        {"data": {"name": "salida_textos"}, "transform": [{"filter": "datum.ajuste === '16:9'"}], "mark": {"type": "text", "font": "Liberation Sans", "fontSize": 22, "align": "center", "baseline": "middle", "color": "#231f20"},
         "encoding": {"x": {"field": "tx", "type": "quantitative", "axis": null}, "y": {"field": "ty", "type": "quantitative", "axis": null}, "text": {"field": "t", "type": "nominal"}}}
      ]
    },
    {
      "layer": [
        {"data": {"name": "marcos"}, "transform": [{"filter": "datum.panel === 'entrada'"}], "mark": {"type": "rect", "fill": "white", "stroke": "#231f20", "strokeWidth": 2},
         "encoding": {"x": {"field": "x_ini", "type": "quantitative", "axis": null, "scale": {"domain": [0, 1024], "range": [1148, 1358], "nice": false, "zero": false}}, "x2": {"field": "x_fin"},
                      "y": {"field": "y_ini", "type": "quantitative", "axis": null, "scale": {"domain": [0, 768], "range": [623, 781], "nice": false, "zero": false}}, "y2": {"field": "y_fin"}}},
        {"data": {"name": "entrada_circulos"}, "mark": {"type": "point", "filled": false, "color": "#231f20", "strokeWidth": 1.1, "opacity": 1},
         "encoding": {"x": {"field": "cx", "type": "quantitative", "axis": null}, "y": {"field": "cy", "type": "quantitative", "axis": null},
                      "size": {"field": "d", "type": "quantitative", "legend": null, "scale": {"type": "pow", "exponent": 2, "domain": [0, 1000], "range": [0, 42066]}},
                      "shape": {"field": "forma", "type": "nominal", "legend": null, "scale": {"domain": ["circulo", "elipse_169", "elipse_completo", "izq", "der", "arr", "aba"], "range": ["M-1,0A1,1 0 1,0 1,0A1,1 0 1,0 -1,0Z", "M-1,0A1,0.75 0 1,0 1,0A1,0.75 0 1,0 -1,0Z", "M-1,0A1,0.8333 0 1,0 1,0A1,0.8333 0 1,0 -1,0Z", "M0,0L2,-0.6L2,0.6Z", "M0,0L-2,-0.6L-2,0.6Z", "M0,0L-0.6,2L0.6,2Z", "M0,0L-0.6,-2L0.6,-2Z"]}}}},
        {"data": {"name": "entrada_cotas"}, "mark": {"type": "rule", "color": "#231f20", "strokeWidth": 1},
         "encoding": {"x": {"field": "x_ini", "type": "quantitative", "axis": null}, "x2": {"field": "x_fin"}, "y": {"field": "y_ini", "type": "quantitative", "axis": null}, "y2": {"field": "y_fin"}}},
        {"data": {"name": "entrada_puntas"}, "mark": {"type": "point", "filled": true, "color": "#231f20", "size": 64, "opacity": 1},
         "encoding": {"x": {"field": "px", "type": "quantitative", "axis": null}, "y": {"field": "py", "type": "quantitative", "axis": null},
                      "shape": {"field": "punta", "type": "nominal", "legend": null, "scale": {"domain": ["circulo", "elipse_169", "elipse_completo", "izq", "der", "arr", "aba"], "range": ["M-1,0A1,1 0 1,0 1,0A1,1 0 1,0 -1,0Z", "M-1,0A1,0.75 0 1,0 1,0A1,0.75 0 1,0 -1,0Z", "M-1,0A1,0.8333 0 1,0 1,0A1,0.8333 0 1,0 -1,0Z", "M0,0L2,-0.6L2,0.6Z", "M0,0L-2,-0.6L-2,0.6Z", "M0,0L-0.6,2L0.6,2Z", "M0,0L-0.6,-2L0.6,-2Z"]}}}},
        {"data": {"name": "entrada_textos"}, "mark": {"type": "text", "font": "Liberation Sans", "fontSize": 22, "align": "center", "baseline": "middle", "color": "#231f20"},
         "encoding": {"x": {"field": "tx", "type": "quantitative", "axis": null}, "y": {"field": "ty", "type": "quantitative", "axis": null}, "text": {"field": "t", "type": "nominal"}}},
        {"data": {"name": "flechas"}, "transform": [{"filter": "datum.ajuste === 'Completo'"}], "mark": {"type": "point", "shape": "M-1,-0.33L0.15,-0.33L0.15,-0.8L1,0L0.15,0.8L0.15,0.33L-1,0.33Z", "size": 1369, "filled": true, "color": "#00a9e8", "opacity": 1},
         "encoding": {"x": {"field": "fx", "type": "quantitative", "axis": null}, "y": {"field": "fy", "type": "quantitative", "axis": null}}}
      ]
    },
    {
      "layer": [
        {"data": {"name": "marcos"}, "transform": [{"filter": "datum.panel === 'salida'"}], "mark": {"type": "rect", "fill": "white", "stroke": "#231f20", "strokeWidth": 2},
         "encoding": {"x": {"field": "x_ini", "type": "quantitative", "axis": null, "scale": {"domain": [0, 1280], "range": [1515, 1778], "nice": false, "zero": false}}, "x2": {"field": "x_fin"},
                      "y": {"field": "y_ini", "type": "quantitative", "axis": null, "scale": {"domain": [0, 800], "range": [621, 785], "nice": false, "zero": false}}, "y2": {"field": "y_fin"}}},
        {"data": {"name": "salida_circulos"}, "transform": [{"filter": "datum.ajuste === 'Completo'"}], "mark": {"type": "point", "filled": false, "color": "#231f20", "strokeWidth": 1.1, "opacity": 1},
         "encoding": {"x": {"field": "cx", "type": "quantitative", "axis": null}, "y": {"field": "cy", "type": "quantitative", "axis": null},
                      "size": {"field": "d", "type": "quantitative", "legend": null, "scale": {"type": "pow", "exponent": 2, "domain": [0, 1000], "range": [0, 42066]}},
                      "shape": {"field": "forma", "type": "nominal", "legend": null, "scale": {"domain": ["circulo", "elipse_169", "elipse_completo", "izq", "der", "arr", "aba"], "range": ["M-1,0A1,1 0 1,0 1,0A1,1 0 1,0 -1,0Z", "M-1,0A1,0.75 0 1,0 1,0A1,0.75 0 1,0 -1,0Z", "M-1,0A1,0.8333 0 1,0 1,0A1,0.8333 0 1,0 -1,0Z", "M0,0L2,-0.6L2,0.6Z", "M0,0L-2,-0.6L-2,0.6Z", "M0,0L-0.6,2L0.6,2Z", "M0,0L-0.6,-2L0.6,-2Z"]}}}},
        {"data": {"name": "salida_cotas"}, "transform": [{"filter": "datum.ajuste === 'Completo'"}], "mark": {"type": "rule", "color": "#231f20", "strokeWidth": 1},
         "encoding": {"x": {"field": "x_ini", "type": "quantitative", "axis": null}, "x2": {"field": "x_fin"}, "y": {"field": "y_ini", "type": "quantitative", "axis": null}, "y2": {"field": "y_fin"}}},
        {"data": {"name": "salida_puntas"}, "transform": [{"filter": "datum.ajuste === 'Completo'"}], "mark": {"type": "point", "filled": true, "color": "#231f20", "size": 64, "opacity": 1},
         "encoding": {"x": {"field": "px", "type": "quantitative", "axis": null}, "y": {"field": "py", "type": "quantitative", "axis": null},
                      "shape": {"field": "punta", "type": "nominal", "legend": null, "scale": {"domain": ["circulo", "elipse_169", "elipse_completo", "izq", "der", "arr", "aba"], "range": ["M-1,0A1,1 0 1,0 1,0A1,1 0 1,0 -1,0Z", "M-1,0A1,0.75 0 1,0 1,0A1,0.75 0 1,0 -1,0Z", "M-1,0A1,0.8333 0 1,0 1,0A1,0.8333 0 1,0 -1,0Z", "M0,0L2,-0.6L2,0.6Z", "M0,0L-2,-0.6L-2,0.6Z", "M0,0L-0.6,2L0.6,2Z", "M0,0L-0.6,-2L0.6,-2Z"]}}}},
        {"data": {"name": "salida_textos"}, "transform": [{"filter": "datum.ajuste === 'Completo'"}], "mark": {"type": "text", "font": "Liberation Sans", "fontSize": 22, "align": "center", "baseline": "middle", "color": "#231f20"},
         "encoding": {"x": {"field": "tx", "type": "quantitative", "axis": null}, "y": {"field": "ty", "type": "quantitative", "axis": null}, "text": {"field": "t", "type": "nominal"}}}
      ]
    },
    {
      "layer": [
        {"data": {"name": "marcos"}, "transform": [{"filter": "datum.panel === 'entrada'"}], "mark": {"type": "rect", "fill": "white", "stroke": "#231f20", "strokeWidth": 2},
         "encoding": {"x": {"field": "x_ini", "type": "quantitative", "axis": null, "scale": {"domain": [0, 1024], "range": [1148, 1358], "nice": false, "zero": false}}, "x2": {"field": "x_fin"},
                      "y": {"field": "y_ini", "type": "quantitative", "axis": null, "scale": {"domain": [0, 768], "range": [879, 1038], "nice": false, "zero": false}}, "y2": {"field": "y_fin"}}},
        {"data": {"name": "entrada_circulos"}, "mark": {"type": "point", "filled": false, "color": "#231f20", "strokeWidth": 1.1, "opacity": 1},
         "encoding": {"x": {"field": "cx", "type": "quantitative", "axis": null}, "y": {"field": "cy", "type": "quantitative", "axis": null},
                      "size": {"field": "d", "type": "quantitative", "legend": null, "scale": {"type": "pow", "exponent": 2, "domain": [0, 1000], "range": [0, 42066]}},
                      "shape": {"field": "forma", "type": "nominal", "legend": null, "scale": {"domain": ["circulo", "elipse_169", "elipse_completo", "izq", "der", "arr", "aba"], "range": ["M-1,0A1,1 0 1,0 1,0A1,1 0 1,0 -1,0Z", "M-1,0A1,0.75 0 1,0 1,0A1,0.75 0 1,0 -1,0Z", "M-1,0A1,0.8333 0 1,0 1,0A1,0.8333 0 1,0 -1,0Z", "M0,0L2,-0.6L2,0.6Z", "M0,0L-2,-0.6L-2,0.6Z", "M0,0L-0.6,2L0.6,2Z", "M0,0L-0.6,-2L0.6,-2Z"]}}}},
        {"data": {"name": "entrada_cotas"}, "mark": {"type": "rule", "color": "#231f20", "strokeWidth": 1},
         "encoding": {"x": {"field": "x_ini", "type": "quantitative", "axis": null}, "x2": {"field": "x_fin"}, "y": {"field": "y_ini", "type": "quantitative", "axis": null}, "y2": {"field": "y_fin"}}},
        {"data": {"name": "entrada_puntas"}, "mark": {"type": "point", "filled": true, "color": "#231f20", "size": 64, "opacity": 1},
         "encoding": {"x": {"field": "px", "type": "quantitative", "axis": null}, "y": {"field": "py", "type": "quantitative", "axis": null},
                      "shape": {"field": "punta", "type": "nominal", "legend": null, "scale": {"domain": ["circulo", "elipse_169", "elipse_completo", "izq", "der", "arr", "aba"], "range": ["M-1,0A1,1 0 1,0 1,0A1,1 0 1,0 -1,0Z", "M-1,0A1,0.75 0 1,0 1,0A1,0.75 0 1,0 -1,0Z", "M-1,0A1,0.8333 0 1,0 1,0A1,0.8333 0 1,0 -1,0Z", "M0,0L2,-0.6L2,0.6Z", "M0,0L-2,-0.6L-2,0.6Z", "M0,0L-0.6,2L0.6,2Z", "M0,0L-0.6,-2L0.6,-2Z"]}}}},
        {"data": {"name": "entrada_textos"}, "mark": {"type": "text", "font": "Liberation Sans", "fontSize": 22, "align": "center", "baseline": "middle", "color": "#231f20"},
         "encoding": {"x": {"field": "tx", "type": "quantitative", "axis": null}, "y": {"field": "ty", "type": "quantitative", "axis": null}, "text": {"field": "t", "type": "nominal"}}},
        {"data": {"name": "flechas"}, "transform": [{"filter": "datum.ajuste === 'Zoom'"}], "mark": {"type": "point", "shape": "M-1,-0.33L0.15,-0.33L0.15,-0.8L1,0L0.15,0.8L0.15,0.33L-1,0.33Z", "size": 1369, "filled": true, "color": "#00a9e8", "opacity": 1},
         "encoding": {"x": {"field": "fx", "type": "quantitative", "axis": null}, "y": {"field": "fy", "type": "quantitative", "axis": null}}}
      ]
    },
    {
      "layer": [
        {"data": {"name": "marcos"}, "transform": [{"filter": "datum.panel === 'salida'"}], "mark": {"type": "rect", "fill": "white", "stroke": "#231f20", "strokeWidth": 2},
         "encoding": {"x": {"field": "x_ini", "type": "quantitative", "axis": null, "scale": {"domain": [0, 1280], "range": [1515, 1778], "nice": false, "zero": false}}, "x2": {"field": "x_fin"},
                      "y": {"field": "y_ini", "type": "quantitative", "axis": null, "scale": {"domain": [0, 800], "range": [871, 1037], "nice": false, "zero": false}}, "y2": {"field": "y_fin"}}},
        {"data": {"name": "rayado"}, "mark": {"type": "rule", "color": "#231f20", "strokeWidth": 0.8, "x2Offset": 8.5},
         "encoding": {"x": {"field": "u", "type": "quantitative", "axis": null}, "x2": {"field": "u"}, "y": {"field": "y_ini", "type": "quantitative", "axis": null}, "y2": {"field": "y_fin"}}},
        {"data": {"name": "salida_circulos"}, "transform": [{"filter": "datum.ajuste === 'Zoom'"}], "mark": {"type": "point", "filled": false, "color": "#231f20", "strokeWidth": 1.1, "opacity": 1},
         "encoding": {"x": {"field": "cx", "type": "quantitative", "axis": null}, "y": {"field": "cy", "type": "quantitative", "axis": null},
                      "size": {"field": "d", "type": "quantitative", "legend": null, "scale": {"type": "pow", "exponent": 2, "domain": [0, 1000], "range": [0, 42066]}},
                      "shape": {"field": "forma", "type": "nominal", "legend": null, "scale": {"domain": ["circulo", "elipse_169", "elipse_completo", "izq", "der", "arr", "aba"], "range": ["M-1,0A1,1 0 1,0 1,0A1,1 0 1,0 -1,0Z", "M-1,0A1,0.75 0 1,0 1,0A1,0.75 0 1,0 -1,0Z", "M-1,0A1,0.8333 0 1,0 1,0A1,0.8333 0 1,0 -1,0Z", "M0,0L2,-0.6L2,0.6Z", "M0,0L-2,-0.6L-2,0.6Z", "M0,0L-0.6,2L0.6,2Z", "M0,0L-0.6,-2L0.6,-2Z"]}}}},
        {"data": {"name": "salida_cotas"}, "transform": [{"filter": "datum.ajuste === 'Zoom'"}], "mark": {"type": "rule", "color": "#231f20", "strokeWidth": 1},
         "encoding": {"x": {"field": "x_ini", "type": "quantitative", "axis": null}, "x2": {"field": "x_fin"}, "y": {"field": "y_ini", "type": "quantitative", "axis": null}, "y2": {"field": "y_fin"}}},
        {"data": {"name": "salida_puntas"}, "transform": [{"filter": "datum.ajuste === 'Zoom'"}], "mark": {"type": "point", "filled": true, "color": "#231f20", "size": 64, "opacity": 1},
         "encoding": {"x": {"field": "px", "type": "quantitative", "axis": null}, "y": {"field": "py", "type": "quantitative", "axis": null},
                      "shape": {"field": "punta", "type": "nominal", "legend": null, "scale": {"domain": ["circulo", "elipse_169", "elipse_completo", "izq", "der", "arr", "aba"], "range": ["M-1,0A1,1 0 1,0 1,0A1,1 0 1,0 -1,0Z", "M-1,0A1,0.75 0 1,0 1,0A1,0.75 0 1,0 -1,0Z", "M-1,0A1,0.8333 0 1,0 1,0A1,0.8333 0 1,0 -1,0Z", "M0,0L2,-0.6L2,0.6Z", "M0,0L-2,-0.6L-2,0.6Z", "M0,0L-0.6,2L0.6,2Z", "M0,0L-0.6,-2L0.6,-2Z"]}}}},
        {"data": {"name": "salida_textos"}, "transform": [{"filter": "datum.ajuste === 'Zoom'"}], "mark": {"type": "text", "font": "Liberation Sans", "fontSize": 22, "align": "center", "baseline": "middle", "color": "#231f20"},
         "encoding": {"x": {"field": "tx", "type": "quantitative", "axis": null}, "y": {"field": "ty", "type": "quantitative", "axis": null}, "text": {"field": "t", "type": "nominal"}}}
      ]
    }
  ]
}
